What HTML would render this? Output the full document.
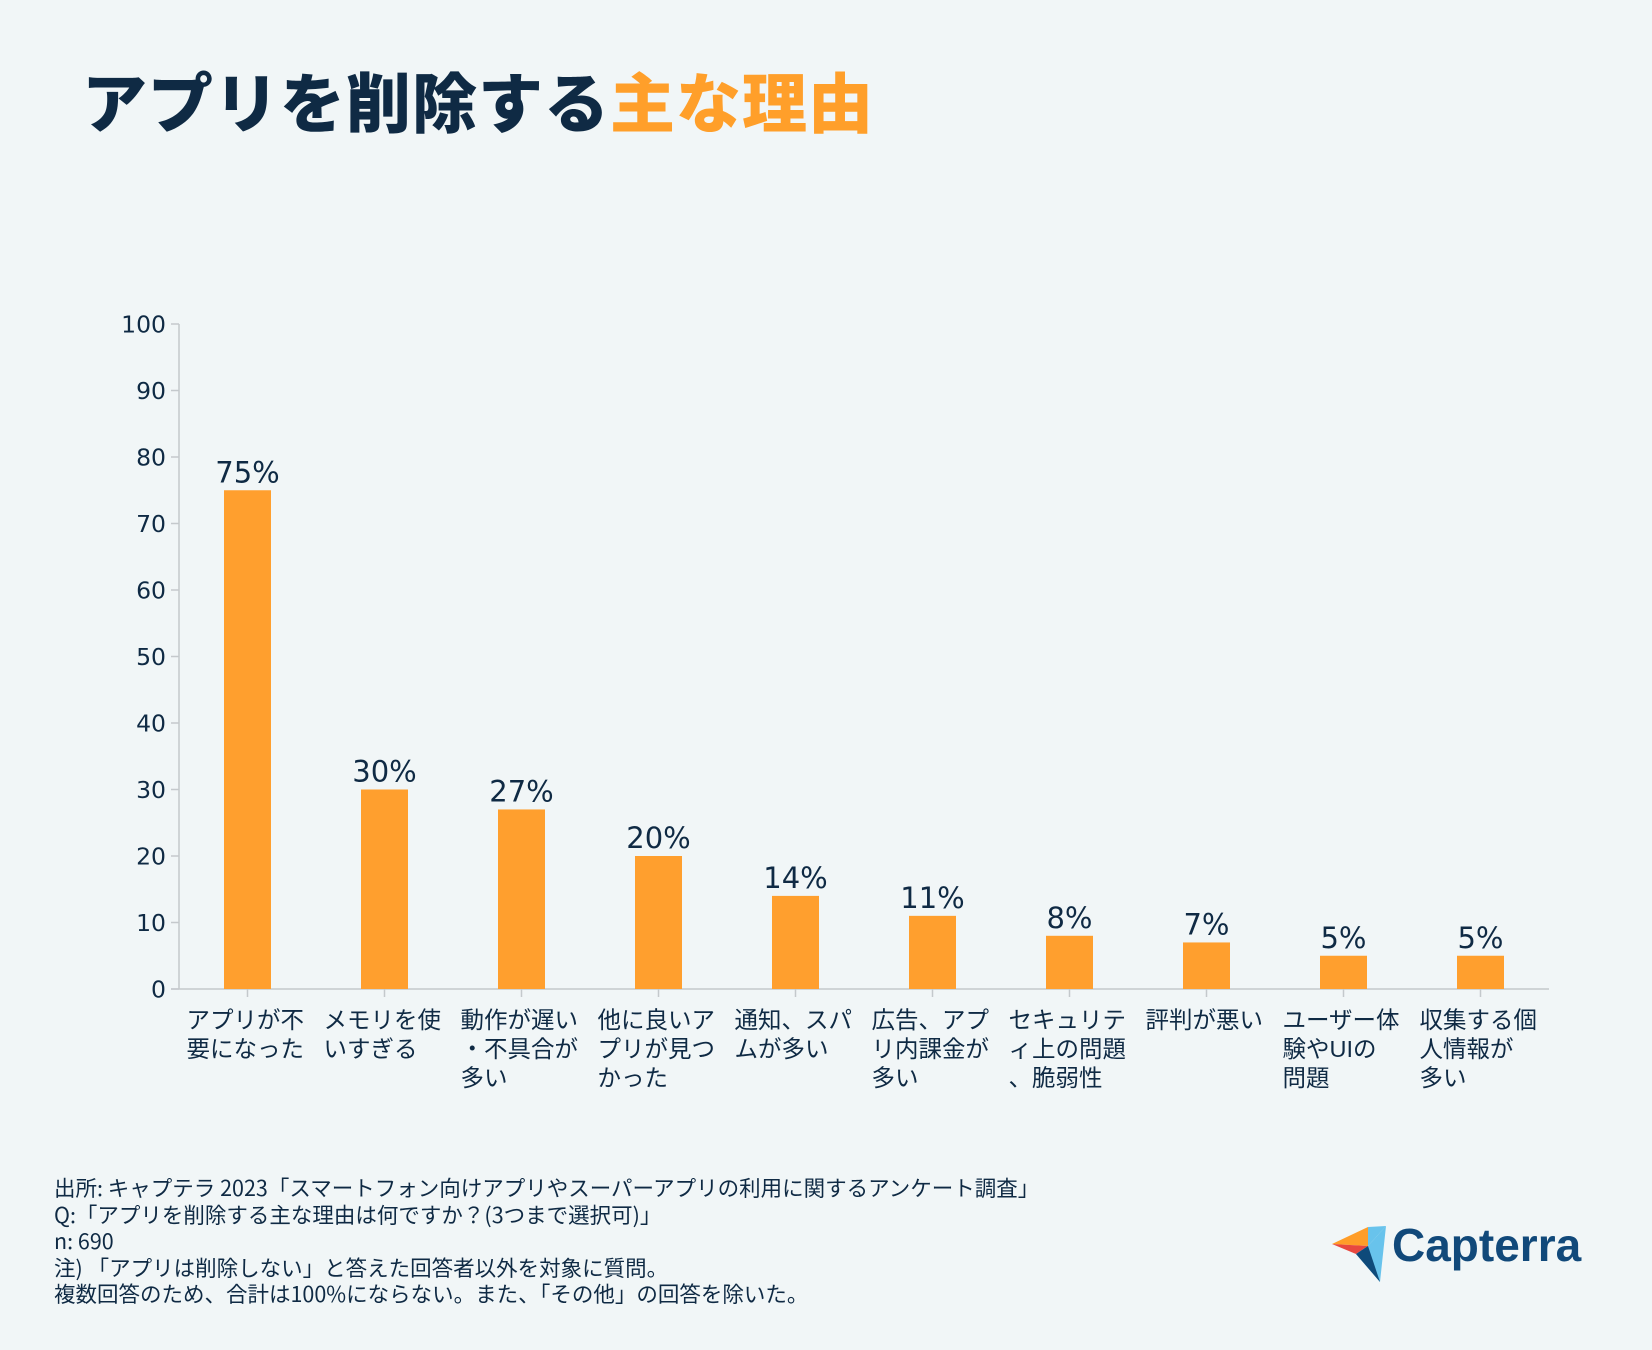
<!DOCTYPE html>
<html><head><meta charset="utf-8">
<style>
body{margin:0;width:1652px;height:1350px;background:#f1f6f7;font-family:"Liberation Sans","Noto Sans CJK JP",sans-serif;color:#0f2a44;overflow:hidden;position:relative}
.title{position:absolute;left:82px;top:54px;font-family:"Noto Sans CJK JP",sans-serif;font-weight:900;font-size:65px;letter-spacing:1px;color:#0f2a44;white-space:nowrap;line-height:90px}
.title span{color:#ff9f2a}
.foot{position:absolute;left:54px;top:1175px;font-family:"Noto Sans CJK JP",sans-serif;font-size:21.5px;line-height:26.5px;color:#0f2a44;white-space:nowrap}
.logo{position:absolute;left:1330px;top:1224px}
.logo .t{position:absolute;left:62px;top:-6px;font-family:"Liberation Sans",sans-serif;font-weight:bold;font-size:46px;color:#11497a;white-space:nowrap}
</style></head><body>
<div class="title">アプリを削除する<span>主な理由</span></div>
<svg id="chart" width="1652" height="1150" style="position:absolute;left:0;top:0"></svg>
<div class="foot">出所: キャプテラ 2023「スマートフォン向けアプリやスーパーアプリの利用に関するアンケート調査」<br>Q:「アプリを削除する主な理由は何ですか？(3つまで選択可)」<br>n: 690<br>注) 「アプリは削除しない」と答えた回答者以外を対象に質問。<br>複数回答のため、合計は100%にならない。また、「その他」の回答を除いた。</div>
<div class="logo">
<svg width="60" height="60" style="position:absolute;left:0;top:0">
<polygon points="2,20 38,3 38,22" fill="#ff9d28"/>
<polygon points="2,20 38,22 26,30" fill="#e8483f"/>
<polygon points="38,3 56,2 38,22" fill="#68c3ec"/>
<polygon points="26,30 38,22 56,2 50,58" fill="#68c3ec"/>
<polygon points="26,30 38,22 50,58" fill="#0e4a7a"/>
</svg>
<div class="t">Capterra</div>
</div>
<script>
const categories=[["アプリが不","要になった"],["メモリを使","いすぎる"],["動作が遅い","・不具合が","多い"],["他に良いア","プリが見つ","かった"],["通知、スパ","ムが多い"],["広告、アプ","リ内課金が","多い"],["セキュリテ","ィ上の問題","、脆弱性"],["評判が悪い"],["ユーザー体","験やUIの","問題"],["収集する個","人情報が","多い"]];
const values=[75,30,27,20,14,11,8,7,5,5];
const yTicks=[0,10,20,30,40,50,60,70,80,90,100];
const NS="http://www.w3.org/2000/svg";
const svg=document.getElementById('chart');
const x0=179,y0=989,yTop=324,bandW=137,barW=47;
const y=v=>y0-(v/100)*(y0-yTop);
const xc=i=>x0+bandW/2+i*bandW;
function mk(t,a){const e=document.createElementNS(NS,t);for(const k in a)e.setAttribute(k,a[k]);svg.appendChild(e);return e;}
let ax=mk('line',{x1:x0,y1:yTop,x2:x0,y2:y0,stroke:'#c4c9cc','stroke-width':1.5});


let bx=mk('line',{x1:x0-8,y1:y0,x2:x0+bandW*categories.length,y2:y0,stroke:'#c4c9cc','stroke-width':1.5});


yTicks.forEach(t=>{
  mk('line',{x1:x0-8,y1:y(t),x2:x0,y2:y(t),stroke:'#c4c9cc','stroke-width':1.5});
  const tx=mk('text',{x:x0-13,y:y(t)+8.5,'text-anchor':'end','font-size':23.5,fill:'#0f2a44','font-family':'"DejaVu Sans",sans-serif'});
  tx.textContent=t;
  
  
});
values.forEach((v,i)=>{
  const r=mk('rect',{x:xc(i)-barW/2,y:y(v),width:barW,height:y0-y(v),fill:'#ff9f2e'});
  
  
  const l=mk('text',{x:xc(i),y:y(v)-8,'text-anchor':'middle','font-size':29,fill:'#0f2a44','font-family':'"DejaVu Sans",sans-serif'});
  l.textContent=v+'%';
  
  
  mk('line',{x1:xc(i),y1:y0,x2:xc(i),y2:y0+8,stroke:'#c4c9cc','stroke-width':1.5});
  categories[i].forEach((line,j)=>{
    const c=mk('text',{x:xc(i)-61,y:y0+39+j*29,'font-size':23.5,fill:'#0f2a44','font-family':'"Liberation Sans","Noto Sans CJK JP",sans-serif'});
    c.textContent=line;
    
    
  });
});
</script>
</body></html>
